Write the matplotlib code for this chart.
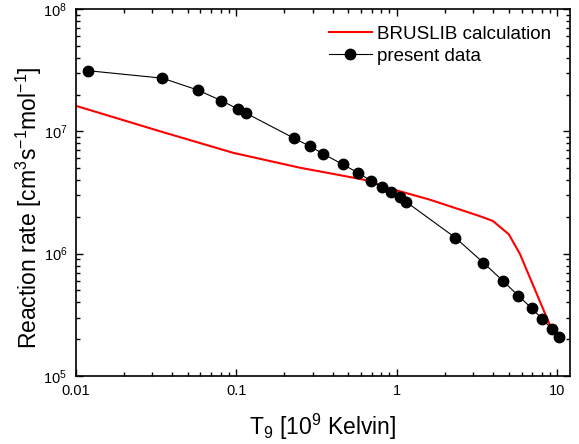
import matplotlib
matplotlib.use('Agg')
import matplotlib.pyplot as plt
from matplotlib.ticker import LogLocator, FuncFormatter, NullFormatter
import numpy as np

plt.rcParams['font.family'] = ['Liberation Sans', 'DejaVu Sans']
plt.rcParams['mathtext.fontset'] = 'custom'
plt.rcParams['mathtext.rm'] = 'Liberation Sans'
plt.rcParams['mathtext.it'] = 'Liberation Sans'

# BRUSLIB calculation (red curve)
calc_t9 = [0.01, 0.0337, 0.096, 0.25, 0.618, 0.949, 1.6, 3.28, 3.97, 4.99, 5.86, 9.0]
calc_rate = [1.62e7, 1.0e7, 6.67e6, 5.04e6, 4.04e6, 3.35e6, 2.77e6, 2.03e6, 1.85e6, 1.44e6, 9.9e5, 2.6e5]

# present data (black points)
data_t9 = [0.012, 0.0348, 0.058, 0.081, 0.103, 0.115, 0.230, 0.288, 0.346, 0.460,
           0.575, 0.687, 0.807, 0.922, 1.045, 1.15, 2.32, 3.46, 4.58, 5.73,
           6.93, 8.08, 9.27, 10.3]
data_rate = [3.13e7, 2.72e7, 2.17e7, 1.78e7, 1.52e7, 1.41e7, 8.77e6, 7.55e6, 6.58e6, 5.38e6,
             4.58e6, 3.96e6, 3.52e6, 3.18e6, 2.88e6, 2.64e6, 1.35e6, 8.45e5, 6.0e5, 4.52e5,
             3.57e5, 2.92e5, 2.42e5, 2.07e5]

fig = plt.figure(figsize=(5.79, 4.44), dpi=100)
ax = fig.add_axes([0.1304, 0.1532, 0.8541, 0.8265])

ax.plot(calc_t9, calc_rate, color='red', lw=1.5, label='BRUSLIB calculation')
ax.plot(data_t9, data_rate, color='black', lw=0.8, marker='o', ms=7.5,
        label='present data')

ax.set_xscale('log')
ax.set_yscale('log')
ax.set_xlim(0.01, 12)
ax.set_ylim(1e5, 1e8)

ax.xaxis.set_major_locator(LogLocator(base=10))
ax.xaxis.set_minor_locator(LogLocator(base=10, subs=np.arange(2, 10)))
ax.xaxis.set_minor_formatter(NullFormatter())
ax.xaxis.set_major_formatter(FuncFormatter(lambda v, p: f'{v:g}'))
ax.yaxis.set_major_locator(LogLocator(base=10))
ax.yaxis.set_minor_locator(LogLocator(base=10, subs=np.arange(2, 10)))
ax.yaxis.set_minor_formatter(NullFormatter())
ax.yaxis.set_major_formatter(FuncFormatter(lambda v, p: r'$10^{%d}$' % round(np.log10(v))))

ax.tick_params(which='both', direction='in', top=True, right=True, width=1.0)
ax.tick_params(which='major', length=5, labelsize=10.5, pad=6)
ax.tick_params(which='minor', length=3)
for s in ax.spines.values():
    s.set_linewidth(1.2)

ax.set_xlabel(r'T$_9$ [10$^9$ Kelvin]', fontsize=16.5, labelpad=10)
ax.set_ylabel(r'Reaction rate [cm$^3$s$^{-1}$mol$^{-1}$]', fontsize=16.5)
ax.yaxis.set_label_coords(-0.064, 0.458)

ax.legend(loc='upper right', bbox_to_anchor=(0.962, 0.954), frameon=False,
          fontsize=13.5, handlelength=2.3, handletextpad=0.27, borderaxespad=0,
          borderpad=0, labelspacing=0.25)

fig.savefig('out.png', dpi=100)
